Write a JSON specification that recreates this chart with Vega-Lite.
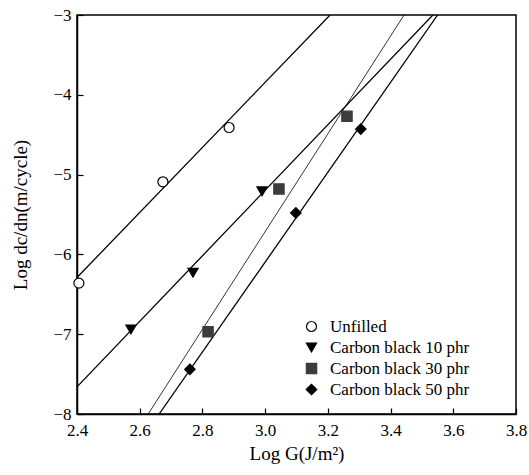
{
  "$schema": "https://vega.github.io/schema/vega-lite/v6.json",
  "width": 439,
  "height": 399,
  "autosize": {"type": "none"},
  "padding": {"left": 77, "top": 15, "right": 13, "bottom": 61},
  "background": "white",
  "config": {
    "font": "Liberation Serif",
    "view": {"stroke": "black", "strokeWidth": 1.5},
    "axis": {
      "domainColor": "black",
      "domainWidth": 1.5,
      "tickColor": "black",
      "tickWidth": 1.2,
      "tickSize": -6,
      "grid": false,
      "labelFont": "Liberation Serif",
      "labelFontSize": 17,
      "labelColor": "black",
      "labelFlush": false,
      "titleFont": "Liberation Serif",
      "titleFontSize": 19,
      "titleFontWeight": "normal",
      "titleColor": "black"
    },
    "legend": {
      "orient": "none",
      "legendX": 226,
      "legendY": 303,
      "labelFont": "Liberation Serif",
      "labelFontSize": 17,
      "labelColor": "black",
      "labelOffset": 10,
      "symbolStrokeWidth": 1.2,
      "rowPadding": 3
    }
  },
  "datasets": {
    "points": [
      {"x": 2.406, "y": -6.36, "series": "Unfilled"},
      {"x": 2.674, "y": -5.09, "series": "Unfilled"},
      {"x": 2.885, "y": -4.41, "series": "Unfilled"},
      {"x": 2.572, "y": -6.94, "series": "Carbon black 10 phr"},
      {"x": 2.77, "y": -6.23, "series": "Carbon black 10 phr"},
      {"x": 2.99, "y": -5.21, "series": "Carbon black 10 phr"},
      {"x": 2.818, "y": -6.97, "series": "Carbon black 30 phr"},
      {"x": 3.044, "y": -5.18, "series": "Carbon black 30 phr"},
      {"x": 3.261, "y": -4.27, "series": "Carbon black 30 phr"},
      {"x": 2.76, "y": -7.44, "series": "Carbon black 50 phr"},
      {"x": 3.098, "y": -5.48, "series": "Carbon black 50 phr"},
      {"x": 3.305, "y": -4.43, "series": "Carbon black 50 phr"}
    ],
    "fits": [
      {"x": 2.4, "y": -6.29, "series": "Unfilled"},
      {"x": 3.207, "y": -3.0, "series": "Unfilled"},
      {"x": 2.4, "y": -7.66, "series": "Carbon black 10 phr"},
      {"x": 3.535, "y": -3.0, "series": "Carbon black 10 phr"},
      {"x": 2.627, "y": -8.0, "series": "Carbon black 30 phr"},
      {"x": 3.443, "y": -3.0, "series": "Carbon black 30 phr"},
      {"x": 2.662, "y": -8.0, "series": "Carbon black 50 phr"},
      {"x": 3.55, "y": -3.0, "series": "Carbon black 50 phr"}
    ]
  },
  "layer": [
    {
      "data": {"name": "fits"},
      "transform": [{"filter": "datum.series != 'Carbon black 30 phr'"}],
      "mark": {"type": "line", "color": "black", "clip": true, "strokeWidth": 1.3},
      "encoding": {
        "x": {"field": "x", "type": "quantitative", "scale": {"domain": [2.4, 3.8], "nice": false, "zero": false},
              "axis": {"values": [2.4, 2.6, 2.8, 3.0, 3.2, 3.4, 3.6, 3.8], "format": ".1f", "title": "Log G(J/m²)", "labelPadding": 14, "titlePadding": 6}},
        "y": {"field": "y", "type": "quantitative", "scale": {"domain": [-8, -3], "nice": false, "zero": false},
              "axis": {"values": [-8, -7, -6, -5, -4, -3], "labelExpr": "'−' + abs(datum.value)", "title": "Log dc/dn(m/cycle)", "labelPadding": 12, "titlePadding": 22}},
        "detail": {"field": "series"}
      }
    },
    {
      "data": {"name": "fits"},
      "transform": [{"filter": "datum.series == 'Carbon black 30 phr'"}],
      "mark": {"type": "line", "color": "black", "clip": true, "strokeWidth": 0.8},
      "encoding": {
        "x": {"field": "x", "type": "quantitative"},
        "y": {"field": "y", "type": "quantitative"},
        "detail": {"field": "series"}
      }
    },
    {
      "data": {"name": "points"},
      "mark": {"type": "point", "filled": true, "strokeWidth": 1.2, "opacity": 1},
      "encoding": {
        "x": {"field": "x", "type": "quantitative"},
        "y": {"field": "y", "type": "quantitative"},
        "shape": {"field": "series", "type": "nominal", "title": null,
          "scale": {"domain": ["Unfilled", "Carbon black 10 phr", "Carbon black 30 phr", "Carbon black 50 phr"], "range": ["circle", "triangle-down", "square", "diamond"]}},
        "fill": {"field": "series", "type": "nominal", "title": null,
          "scale": {"domain": ["Unfilled", "Carbon black 10 phr", "Carbon black 30 phr", "Carbon black 50 phr"], "range": ["white", "black", "#3c3c3c", "black"]}},
        "stroke": {"field": "series", "type": "nominal", "title": null,
          "scale": {"domain": ["Unfilled", "Carbon black 10 phr", "Carbon black 30 phr", "Carbon black 50 phr"], "range": ["black", "black", "#3c3c3c", "black"]}},
        "size": {"field": "series", "type": "ordinal", "title": null,
          "scale": {"domain": ["Unfilled", "Carbon black 10 phr", "Carbon black 30 phr", "Carbon black 50 phr"], "range": [100, 110, 80, 150]}}
      }
    }
  ]
}
